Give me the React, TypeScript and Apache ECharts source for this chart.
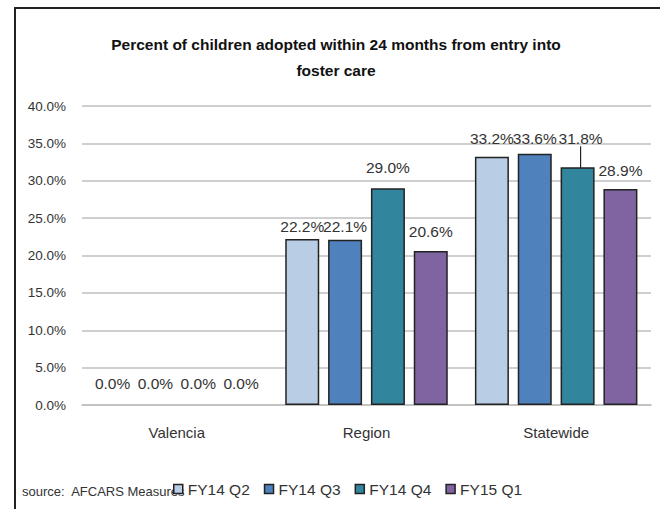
import React, { useEffect, useRef } from "react";
import * as echarts from "echarts";

const categories = ["Valencia", "Region", "Statewide"];
const seriesNames = ["FY14 Q2", "FY14 Q3", "FY14 Q4", "FY15 Q1"];
const fy14q2 = [0.0, 22.2, 33.2];
const fy14q3 = [0.0, 22.1, 33.6];
const fy14q4 = [0.0, 29.0, 31.8];
const fy15q1 = [0.0, 20.6, 28.9];
const yTicks = { min: 0, max: 40, interval: 5 };
const titleLines = ["Percent of children adopted within 24 months from entry into", "foster care"];
const sourceText = "source:  AFCARS Measures";

const seriesValues = [fy14q2, fy14q3, fy14q4, fy15q1];
const colors = ["#b9cde5", "#4f81bd", "#31859c", "#8064a2"];
// label distance above each bar (style only), [series][category]
const labelDist = [
  [14, 5, 10],
  [14, 5, 7],
  [14, 13, 5],
  [14, 12, 10],
];
const FONT = "Liberation Sans, Arial, sans-serif";

export default function App() {
  const ref = useRef<HTMLDivElement>(null);
  useEffect(() => {
    if (!ref.current) return;
    const chart = echarts.init(ref.current, null, { renderer: "svg" });
    const series = seriesValues.map((vals, si) => ({
      name: seriesNames[si],
      type: "bar",
      barWidth: 34,
      barGap: "26%",
      itemStyle: { color: colors[si], borderColor: "#222", borderWidth: 1.5 },
      label: {
        show: true,
        position: "top",
        fontFamily: FONT,
        fontSize: 15.5,
        color: "#333",
        formatter: (p: any) => Number(p.value).toFixed(1) + "%",
      },
      labelLayout: si === 2
        ? (p: any) => (p.dataIndex === 2 ? { dy: -16, dx: 3 } : {})
        : undefined,
      data: vals.map((v, ci) => {
        const item: any = { value: v, label: { distance: labelDist[si][ci] } };
        if (v === 0) item.itemStyle = { borderWidth: 0 };
        if (si === 2 && ci === 2) item.labelLine = { show: true, lineStyle: { color: "#222", width: 1.2 } };
        return item;
      }),
    }));
    chart.setOption({
      animation: false,
      backgroundColor: "#ffffff",
      grid: { left: 82, right: 9, top: 106, bottom: 104, containLabel: false },
      legend: {
        data: seriesNames,
        left: 168,
        top: 476,
        icon: "rect",
        itemWidth: 9,
        itemHeight: 9,
        itemGap: 14,
        itemStyle: { borderColor: "#222", borderWidth: 1.5 },
        textStyle: { fontFamily: FONT, fontSize: 15.5, color: "#333" },
      },
      xAxis: {
        type: "category",
        data: categories,
        axisTick: { show: false },
        axisLine: { lineStyle: { color: "#bfbfbf", width: 1.5 } },
        axisLabel: { fontFamily: FONT, fontSize: 15, color: "#333", margin: 20 },
      },
      yAxis: {
        type: "value",
        min: yTicks.min,
        max: yTicks.max,
        interval: yTicks.interval,
        axisLine: { show: false },
        axisTick: { show: false },
        splitLine: { lineStyle: { color: "#bfbfbf", width: 1.5 } },
        axisLabel: {
          fontFamily: FONT,
          fontSize: 13.5,
          color: "#333",
          margin: 16,
          formatter: (v: number) => v.toFixed(1) + "%",
        },
      },
      graphic: [
        { type: "line", shape: { x1: 15, y1: 8, x2: 15, y2: 509 }, style: { stroke: "#222", lineWidth: 2 } },
        { type: "line", shape: { x1: 14, y1: 8, x2: 660, y2: 8 }, style: { stroke: "#222", lineWidth: 2 } },
        {
          type: "text",
          x: 336,
          y: 44,
          style: { text: titleLines[0], fontFamily: FONT, fontSize: 15.5, fontWeight: "bold", fill: "#111", textAlign: "center", textVerticalAlign: "middle" },
        },
        {
          type: "text",
          x: 336,
          y: 70,
          style: { text: titleLines[1], fontFamily: FONT, fontSize: 15.5, fontWeight: "bold", fill: "#111", textAlign: "center", textVerticalAlign: "middle" },
        },
        {
          type: "text",
          x: 22,
          y: 491,
          style: { text: sourceText, fontFamily: FONT, fontSize: 13, fill: "#333", textAlign: "left", textVerticalAlign: "middle" },
        },
      ],
      series,
    });
    return () => chart.dispose();
  }, []);
  return (
    <div
      ref={ref}
      style={{ position: "fixed", left: 0, top: 0, width: 660, height: 509, background: "#fff" }}
    />
  );
}
